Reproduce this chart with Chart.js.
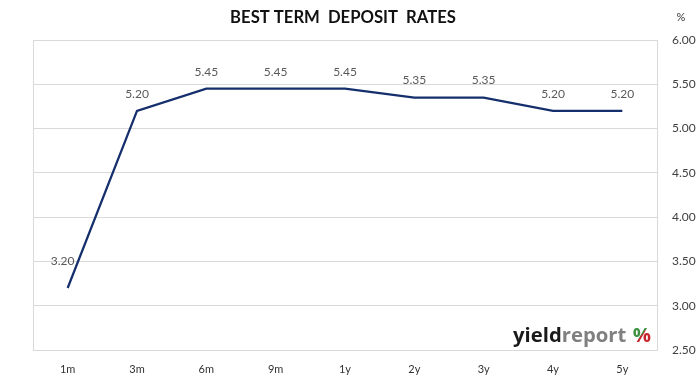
<!DOCTYPE html>
<html>
<head>
<meta charset="utf-8">
<script src="https://cdn.jsdelivr.net/npm/chart.js@4/dist/chart.umd.min.js"></script>
<style>
html,body{margin:0;padding:0;background:#fff;}
#wrap{width:699px;height:383px;position:relative;}
</style>
</head>
<body>
<div id="wrap"><canvas id="c" width="699" height="383"></canvas></div>
<script>
const categories = ['1m','3m','6m','9m','1y','2y','3y','4y','5y'];
const rates = [3.20, 5.20, 5.45, 5.45, 5.45, 5.35, 5.35, 5.20, 5.20];
const yTicks = [2.50, 3.00, 3.50, 4.00, 4.50, 5.00, 5.50, 6.00];
const titleText = 'BEST TERM  DEPOSIT  RATES';
const unitText = '%';

const FONT = 'Lato, "Open Sans", "DejaVu Sans", sans-serif';

const decor = {
  id: 'decor',
  beforeDatasetsDraw(chart) {
    const {ctx, chartArea: a} = chart;
    ctx.save();
    ctx.strokeStyle = '#d9d9d9';
    ctx.lineWidth = 1;
    ctx.strokeRect(Math.round(a.left) + 0.5, Math.round(a.top) + 0.5, Math.round(a.right - a.left), Math.round(a.bottom - a.top));
    ctx.restore();
  },
  afterDatasetsDraw(chart) {
    const {ctx} = chart;
    const meta = chart.getDatasetMeta(0);
    ctx.save();
    ctx.font = '12px ' + FONT;
    ctx.fillStyle = '#595959';
    ctx.textAlign = 'center';
    ctx.textBaseline = 'middle';
    meta.data.forEach((pt, i) => {
      let x = pt.x, y = pt.y - 17;
      if (i === 0) { x -= 5; y = pt.y - 27; }
      ctx.fillText(rates[i].toFixed(2), x, y);
    });
    ctx.restore();
  },
  afterDraw(chart) {
    const {ctx} = chart;
    ctx.save();
    // title
    let tfs = 16;
    ctx.font = 'bold ' + tfs + 'px ' + FONT;
    tfs = tfs * 226 / ctx.measureText(titleText).width;
    ctx.font = 'bold ' + tfs.toFixed(2) + 'px ' + FONT;
    ctx.fillStyle = '#111';
    ctx.textAlign = 'center';
    ctx.textBaseline = 'middle';
    ctx.fillText(titleText, 343, 18);
    // unit
    ctx.font = '11px ' + FONT;
    ctx.fillStyle = '#333';
    ctx.fillText(unitText, 681, 17);
    // logo
    const target = 138;
    let fs = 22;
    const logoFont = s => 'bold ' + s + 'px "Open Sans", "Noto Sans", sans-serif';
    ctx.font = logoFont(fs);
    const gap = 7;
    let w = ctx.measureText('yieldreport').width + gap + ctx.measureText('%').width;
    fs = fs * target / w;
    ctx.font = logoFont(fs);
    const wy = ctx.measureText('yield').width;
    const wr = ctx.measureText('report').width;
    const wp = ctx.measureText('%').width;
    const gapS = gap * fs / 22;
    const right = 651, base = 342;
    let x = right - (wy + wr + gapS + wp);
    ctx.textAlign = 'left';
    ctx.textBaseline = 'alphabetic';
    ctx.fillStyle = '#1a1a1a';
    ctx.fillText('yield', x, base);
    x += wy;
    ctx.fillStyle = '#808080';
    ctx.fillText('report', x, base);
    x += wr + gapS;
    const g = ctx.createLinearGradient(x, base - fs * 0.72, x + wp, base);
    g.addColorStop(0, '#3d9140');
    g.addColorStop(0.5, '#3d9140');
    g.addColorStop(0.5, '#c8242b');
    g.addColorStop(1, '#c8242b');
    ctx.fillStyle = g;
    ctx.fillText('%', x, base);
    ctx.restore();
  }
};

new Chart(document.getElementById('c'), {
  type: 'line',
  data: {
    labels: categories,
    datasets: [{
      data: rates,
      borderColor: '#142f6b',
      borderWidth: 2.25,
      pointRadius: 0,
      tension: 0,
      fill: false
    }]
  },
  options: {
    responsive: false,
    animation: false,
    devicePixelRatio: 1,
    layout: { padding: { top: 40, left: 33, right: 0, bottom: 0 } },
    plugins: { legend: { display: false }, title: { display: false }, tooltip: { enabled: false } },
    scales: {
      x: {
        type: 'category',
        offset: true,
        grid: { display: false, drawTicks: false },
        border: { display: false },
        ticks: { color: '#333', font: { family: FONT, size: 11 }, padding: 13, maxRotation: 0 },
        afterFit(s) { s.height = 33; }
      },
      y: {
        position: 'right',
        min: 2.5, max: 6,
        afterBuildTicks(s) { s.ticks = yTicks.map(v => ({ value: v })); },
        grid: { color: '#d9d9d9', drawTicks: false },
        border: { display: false },
        ticks: {
          color: '#404040',
          font: { family: FONT, size: 12 },
          padding: 15,
          callback: v => Number(v).toFixed(2)
        },
        afterFit(s) { s.width = 42; }
      }
    }
  },
  plugins: [decor]
});
</script>
</body>
</html>
